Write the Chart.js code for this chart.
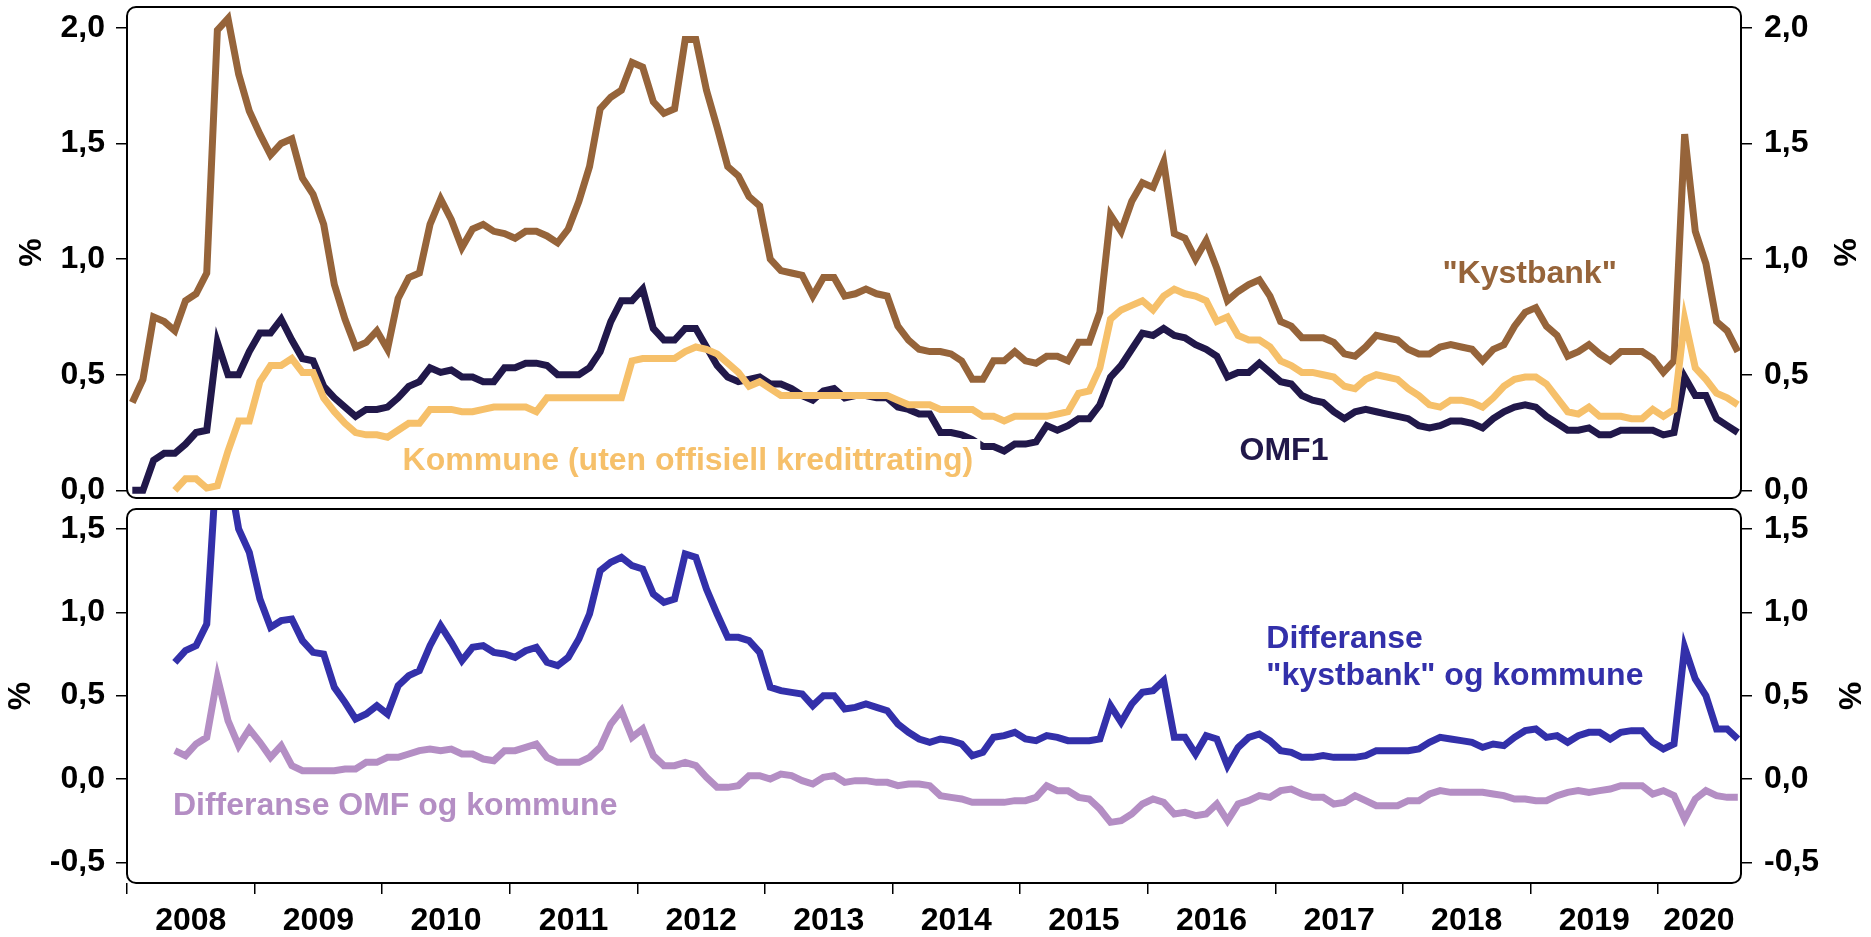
<!DOCTYPE html>
<html>
<head>
<meta charset="utf-8">
<script src="https://cdn.jsdelivr.net/npm/chart.js@4.4.1/dist/chart.umd.min.js"></script>
<style>
  html, body { margin: 0; padding: 0; background: #fff; }
  #wrap { position: relative; width: 1871px; height: 937px; }
  #top { position: absolute; left: 0; top: 0; }
  #bot { position: absolute; left: 0; top: 500px; }
</style>
</head>
<body>
<div id="wrap">
  <canvas id="top" width="1871" height="510"></canvas>
  <canvas id="bot" width="1871" height="437"></canvas>
</div>
<script>
// monthly observations, Jan 2008 - Aug 2020 (one row per year)
const kystbank = [
  0.38, 0.48, 0.75, 0.73, 0.69, 0.82, 0.85, 0.94, 1.99, 2.04, 1.80, 1.64,
  1.54, 1.45, 1.50, 1.52, 1.35, 1.28, 1.15, 0.89, 0.74, 0.62, 0.64, 0.69,
  0.61, 0.83, 0.92, 0.94, 1.15, 1.26, 1.17, 1.05, 1.13, 1.15, 1.12, 1.11,
  1.09, 1.12, 1.12, 1.10, 1.07, 1.13, 1.25, 1.40, 1.65, 1.70, 1.73, 1.85,
  1.83, 1.68, 1.63, 1.65, 1.95, 1.95, 1.73, 1.57, 1.40, 1.36, 1.27, 1.23,
  1.00, 0.95, 0.94, 0.93, 0.84, 0.92, 0.92, 0.84, 0.85, 0.87, 0.85, 0.84,
  0.71, 0.65, 0.61, 0.60, 0.60, 0.59, 0.56, 0.48, 0.48, 0.56, 0.56, 0.60,
  0.56, 0.55, 0.58, 0.58, 0.56, 0.64, 0.64, 0.77, 1.19, 1.12, 1.25, 1.33,
  1.31, 1.42, 1.11, 1.09, 1.00, 1.08, 0.96, 0.82, 0.86, 0.89, 0.91, 0.84,
  0.73, 0.71, 0.66, 0.66, 0.66, 0.64, 0.59, 0.58, 0.62, 0.67, 0.66, 0.65,
  0.61, 0.59, 0.59, 0.62, 0.63, 0.62, 0.61, 0.56, 0.61, 0.63, 0.71, 0.77,
  0.79, 0.71, 0.67, 0.58, 0.60, 0.63, 0.59, 0.56, 0.60, 0.60, 0.60, 0.57,
  0.51, 0.56, 1.54, 1.12, 0.98, 0.73, 0.69, 0.60
];
const omf1 = [
  0.00, 0.00, 0.13, 0.16, 0.16, 0.20, 0.25, 0.26, 0.64, 0.50, 0.50, 0.60,
  0.68, 0.68, 0.74, 0.65, 0.57, 0.56, 0.45, 0.40, 0.36, 0.32, 0.35, 0.35,
  0.36, 0.40, 0.45, 0.47, 0.53, 0.51, 0.52, 0.49, 0.49, 0.47, 0.47, 0.53,
  0.53, 0.55, 0.55, 0.54, 0.50, 0.50, 0.50, 0.53, 0.60, 0.73, 0.82, 0.82,
  0.87, 0.70, 0.65, 0.65, 0.70, 0.70, 0.62, 0.54, 0.49, 0.47, 0.48, 0.49,
  0.46, 0.46, 0.44, 0.41, 0.39, 0.43, 0.44, 0.40, 0.41, 0.41, 0.40, 0.40,
  0.36, 0.35, 0.33, 0.33, 0.25, 0.25, 0.24, 0.22, 0.19, 0.19, 0.17, 0.20,
  0.20, 0.21, 0.28, 0.26, 0.28, 0.31, 0.31, 0.37, 0.49, 0.54, 0.61, 0.68,
  0.67, 0.70, 0.67, 0.66, 0.63, 0.61, 0.58, 0.49, 0.51, 0.51, 0.55, 0.51,
  0.47, 0.46, 0.41, 0.39, 0.38, 0.34, 0.31, 0.34, 0.35, 0.34, 0.33, 0.32,
  0.31, 0.28, 0.27, 0.28, 0.30, 0.30, 0.29, 0.27, 0.31, 0.34, 0.36, 0.37,
  0.36, 0.32, 0.29, 0.26, 0.26, 0.27, 0.24, 0.24, 0.26, 0.26, 0.26, 0.26,
  0.24, 0.25, 0.49, 0.41, 0.41, 0.31, 0.28, 0.25
];
const kommune = [
  null, null, null, null, 0.00, 0.05, 0.05, 0.01, 0.02, 0.17, 0.30, 0.30,
  0.47, 0.54, 0.54, 0.57, 0.51, 0.51, 0.40, 0.34, 0.29, 0.25, 0.24, 0.24,
  0.23, 0.26, 0.29, 0.29, 0.35, 0.35, 0.35, 0.34, 0.34, 0.35, 0.36, 0.36,
  0.36, 0.36, 0.34, 0.40, 0.40, 0.40, 0.40, 0.40, 0.40, 0.40, 0.40, 0.56,
  0.57, 0.57, 0.57, 0.57, 0.60, 0.62, 0.61, 0.59, 0.55, 0.51, 0.45, 0.47,
  0.44, 0.41, 0.41, 0.41, 0.41, 0.41, 0.41, 0.41, 0.41, 0.41, 0.41, 0.41,
  0.39, 0.37, 0.37, 0.37, 0.35, 0.35, 0.35, 0.35, 0.32, 0.32, 0.30, 0.32,
  0.32, 0.32, 0.32, 0.33, 0.34, 0.42, 0.43, 0.53, 0.74, 0.78, 0.80, 0.82,
  0.78, 0.84, 0.87, 0.85, 0.84, 0.82, 0.73, 0.75, 0.67, 0.65, 0.65, 0.62,
  0.56, 0.54, 0.51, 0.51, 0.50, 0.49, 0.45, 0.44, 0.48, 0.50, 0.49, 0.48,
  0.44, 0.41, 0.37, 0.36, 0.39, 0.39, 0.38, 0.36, 0.40, 0.45, 0.48, 0.49,
  0.49, 0.46, 0.40, 0.34, 0.33, 0.36, 0.32, 0.32, 0.32, 0.31, 0.31, 0.35,
  0.32, 0.35, 0.74, 0.53, 0.48, 0.42, 0.40, 0.37
];
const diffKystbank = [
  null, null, null, null, 0.70, 0.77, 0.80, 0.93, 1.97, 1.87, 1.50, 1.36,
  1.08, 0.91, 0.95, 0.96, 0.83, 0.76, 0.75, 0.55, 0.46, 0.36, 0.39, 0.44,
  0.39, 0.56, 0.62, 0.65, 0.80, 0.92, 0.82, 0.71, 0.79, 0.80, 0.76, 0.75,
  0.73, 0.77, 0.79, 0.70, 0.68, 0.73, 0.84, 0.99, 1.25, 1.30, 1.33, 1.28,
  1.26, 1.11, 1.06, 1.08, 1.35, 1.33, 1.14, 0.99, 0.85, 0.85, 0.83, 0.76,
  0.55, 0.53, 0.52, 0.51, 0.44, 0.50, 0.50, 0.42, 0.43, 0.45, 0.43, 0.41,
  0.33, 0.28, 0.24, 0.22, 0.24, 0.23, 0.21, 0.14, 0.16, 0.25, 0.26, 0.28,
  0.24, 0.23, 0.26, 0.25, 0.23, 0.23, 0.23, 0.24, 0.44, 0.34, 0.45, 0.52,
  0.53, 0.59, 0.25, 0.25, 0.15, 0.26, 0.24, 0.08, 0.19, 0.25, 0.27, 0.23,
  0.17, 0.16, 0.13, 0.13, 0.14, 0.13, 0.13, 0.13, 0.14, 0.17, 0.17, 0.17,
  0.17, 0.18, 0.22, 0.25, 0.24, 0.23, 0.22, 0.19, 0.21, 0.20, 0.25, 0.29,
  0.30, 0.25, 0.26, 0.22, 0.26, 0.28, 0.28, 0.24, 0.28, 0.29, 0.29, 0.22,
  0.18, 0.21, 0.79, 0.60, 0.50, 0.30, 0.30, 0.24
];
const diffOmf = [
  null, null, null, null, 0.17, 0.14, 0.21, 0.25, 0.61, 0.35, 0.20, 0.30,
  0.22, 0.13, 0.20, 0.08, 0.05, 0.05, 0.05, 0.05, 0.06, 0.06, 0.10, 0.10,
  0.13, 0.13, 0.15, 0.17, 0.18, 0.17, 0.18, 0.15, 0.15, 0.12, 0.11, 0.17,
  0.17, 0.19, 0.21, 0.13, 0.10, 0.10, 0.10, 0.13, 0.19, 0.33, 0.41, 0.25,
  0.30, 0.14, 0.08, 0.08, 0.10, 0.08, 0.01, -0.05, -0.05, -0.04, 0.02, 0.02,
  0.00, 0.03, 0.02, -0.01, -0.03, 0.01, 0.02, -0.02, -0.01, -0.01, -0.02, -0.02,
  -0.04, -0.03, -0.03, -0.04, -0.10, -0.11, -0.12, -0.14, -0.14, -0.14, -0.14, -0.13,
  -0.13, -0.11, -0.04, -0.07, -0.07, -0.11, -0.12, -0.18, -0.26, -0.25, -0.21, -0.15,
  -0.12, -0.14, -0.21, -0.20, -0.22, -0.21, -0.15, -0.25, -0.15, -0.13, -0.10, -0.11,
  -0.07, -0.06, -0.09, -0.11, -0.11, -0.15, -0.14, -0.10, -0.13, -0.16, -0.16, -0.16,
  -0.13, -0.13, -0.09, -0.07, -0.08, -0.08, -0.08, -0.08, -0.09, -0.10, -0.12, -0.12,
  -0.13, -0.13, -0.10, -0.08, -0.07, -0.08, -0.07, -0.06, -0.04, -0.04, -0.04, -0.09,
  -0.07, -0.10, -0.24, -0.12, -0.07, -0.10, -0.11, -0.11
];

// x categories: mid-month as decimal year
const months = [];
for (let i = 0; i < kystbank.length; i++) months.push(2008 + (i + 0.5) / 12);

const yearBounds = [2008, 2009, 2010, 2011, 2012, 2013, 2014, 2015, 2016, 2017, 2018, 2019, 2020];
const yearLabelAt = [2008.5, 2009.5, 2010.5, 2011.5, 2012.5, 2013.5, 2014.5, 2015.5, 2016.5, 2017.5, 2018.5, 2019.5, 2020.32];
const topTicks = [0, 0.5, 1, 1.5, 2];
const botTicks = [-0.5, 0, 0.5, 1, 1.5];

const X_MIN = 2008, X_MAX = 2020.65;

const C_KYST = '#96643A';
const C_OMF = '#21184A';
const C_KOM = '#F6C06A';
const C_DKYST = '#3330AA';
const C_DOMF = '#B48EC4';

const FONT = "'Liberation Sans', Arial, sans-serif";
const TXT = { family: FONT, size: 32, weight: 'bold' };

function pct(v) {
  return (v < 0 ? '-' : '') + Math.abs(v).toFixed(1).replace('.', ',');
}

function noPad(s) {
  s.paddingTop = 0; s.paddingBottom = 0; s.paddingLeft = 0; s.paddingRight = 0;
}

function yAxis(position, min, max, ticks, width, titlePad) {
  return {
    position, min, max,
    afterBuildTicks: s => { s.ticks = ticks.map(v => ({ value: v })); },
    afterFit: s => { s.width = width; noPad(s); },
    grid: { drawOnChartArea: false, drawTicks: true, tickLength: 11, color: '#000', lineWidth: 1.5 },
    border: { display: false },
    ticks: { color: '#000', font: TXT, padding: position === 'left' ? 11 : 12, callback: v => pct(v) },
    title: { display: true, text: '%', color: '#000', font: TXT, padding: { top: titlePad, bottom: 0 } }
  };
}

function line(label, data, color) {
  return {
    label, data,
    borderColor: color, backgroundColor: color,
    borderWidth: 7, pointRadius: 0, tension: 0, fill: false
  };
}

function roundRect(ctx, x, y, w, h, r) {
  ctx.beginPath();
  ctx.moveTo(x + r, y);
  ctx.arcTo(x + w, y, x + w, y + h, r);
  ctx.arcTo(x + w, y + h, x, y + h, r);
  ctx.arcTo(x, y + h, x, y, r);
  ctx.arcTo(x, y, x + w, y, r);
  ctx.closePath();
}

// series labels inside the panels + rounded frame
const panelPlugin = {
  id: 'panel',
  afterDatasetsDraw(chart, args, opts) {
    const { ctx } = chart;
    const xs = chart.scales.x, ys = chart.scales.y;
    const notes = opts.notes || [];
    ctx.save();
    ctx.font = 'bold 32px ' + FONT;
    ctx.textBaseline = 'alphabetic';
    ctx.textAlign = 'left';
    notes.forEach(n => {
      const px = xs.getPixelForValue(n.x), py = ys.getPixelForValue(n.y);
      const w = ctx.measureText(n.text).width;
      ctx.fillStyle = '#fff';
      ctx.fillRect(px - 4, py - 31, w + 11, 39);
    });
    notes.forEach(n => {
      const px = xs.getPixelForValue(n.x), py = ys.getPixelForValue(n.y);
      ctx.fillStyle = n.color;
      ctx.fillText(n.text, px, py);
    });
    ctx.restore();
  },
  afterDraw(chart) {
    const { ctx, chartArea: a } = chart;
    ctx.save();
    roundRect(ctx, a.left, a.top, a.right - a.left, a.bottom - a.top, 9);
    ctx.lineWidth = 2;
    ctx.strokeStyle = '#000';
    ctx.stroke();
    ctx.restore();
  }
};

new Chart(document.getElementById('top'), {
  type: 'line',
  data: {
    labels: months,
    datasets: [
      line('Kommune (uten offisiell kredittrating)', kommune, C_KOM),
      line('OMF1', omf1, C_OMF),
      line('"Kystbank"', kystbank, C_KYST)
    ]
  },
  options: {
    responsive: false,
    animation: false,
    layout: { padding: { top: 7, bottom: 12, left: 0, right: 0 } },
    plugins: {
      legend: { display: false },
      tooltip: { enabled: false },
      panel: {
        notes: [
          { text: '"Kystbank"', x: 2018.31, y: 0.897, color: C_KYST },
          { text: 'OMF1', x: 2016.72, y: 0.132, color: C_OMF },
          { text: 'Kommune (uten offisiell kredittrating)', x: 2010.16, y: 0.088, color: C_KOM }
        ]
      }
    },
    scales: {
      x: { type: 'linear', display: false, min: X_MIN, max: X_MAX },
      y: yAxis('left', -0.033, 2.09, topTicks, 127, 13),
      y2: yAxis('right', -0.033, 2.09, topTicks, 130, 9)
    }
  },
  plugins: [panelPlugin]
});

new Chart(document.getElementById('bot'), {
  type: 'line',
  data: {
    labels: months,
    datasets: [
      line('Differanse "kystbank" og kommune', diffKystbank, C_DKYST),
      line('Differanse OMF og kommune', diffOmf, C_DOMF)
    ]
  },
  options: {
    responsive: false,
    animation: false,
    layout: { padding: { top: 9, bottom: 0, left: 0, right: 0 } },
    plugins: {
      legend: { display: false },
      tooltip: { enabled: false },
      panel: {
        notes: [
          { text: 'Differanse OMF og kommune', x: 2008.36, y: -0.214, color: C_DOMF },
          { text: 'Differanse', x: 2016.93, y: 0.788, color: C_DKYST },
          { text: '"kystbank" og kommune', x: 2016.93, y: 0.566, color: C_DKYST }
        ]
      }
    },
    scales: {
      x: {
        type: 'linear', position: 'bottom', min: X_MIN, max: X_MAX, weight: 0,
        afterBuildTicks: s => { s.ticks = yearBounds.map(v => ({ value: v })); },
        afterFit: s => { s.height = 11; noPad(s); },
        grid: { drawOnChartArea: false, drawTicks: true, tickLength: 11, color: '#000', lineWidth: 1.5 },
        border: { display: false },
        ticks: { display: false }
      },
      xl: {
        type: 'linear', position: 'bottom', min: X_MIN, max: X_MAX, weight: 1,
        afterBuildTicks: s => { s.ticks = yearLabelAt.map(v => ({ value: v })); },
        afterFit: s => { s.height = 43; noPad(s); },
        grid: { display: false, drawTicks: false },
        border: { display: false },
        ticks: {
          autoSkip: false, maxRotation: 0, minRotation: 0, padding: 8,
          color: '#000', font: TXT,
          callback: v => String(Math.floor(v))
        }
      },
      y: yAxis('left', -0.624, 1.62, botTicks, 127, 2),
      y2: yAxis('right', -0.624, 1.62, botTicks, 130, 4)
    }
  },
  plugins: [panelPlugin]
});
</script>
</body>
</html>
